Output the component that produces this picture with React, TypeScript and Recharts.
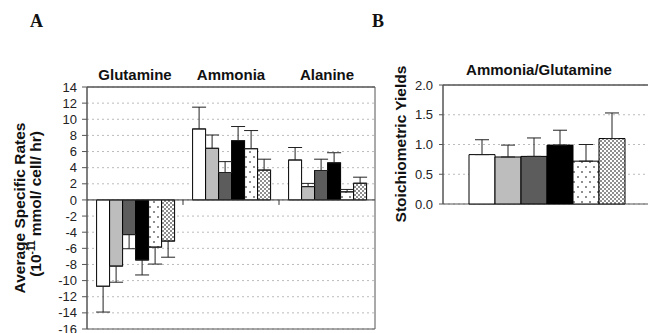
import React from 'react';
import {
  BarChart,
  Bar,
  XAxis,
  YAxis,
  CartesianGrid,
  ReferenceLine,
  ErrorBar,
} from 'recharts';

// Panel A: average specific rates (10^-11 mmol/cell/hr)
const groupsA = ['Glutamine', 'Ammonia', 'Alanine'];
const meanWhite = [-10.7, 8.8, 4.95];
const errWhite = [3.2, 2.7, 1.55];
const meanLightGray = [-8.2, 6.4, 1.65];
const errLightGray = [2.0, 1.65, 0.4];
const meanDarkGray = [-4.3, 3.4, 3.65];
const errDarkGray = [1.75, 1.35, 1.4];
const meanBlack = [-7.45, 7.35, 4.6];
const errBlack = [1.85, 1.75, 1.25];
const meanFineDots = [-5.85, 6.35, 1.0];
const errFineDots = [2.1, 2.25, 0.3];
const meanCoarseDots = [-5.1, 3.7, 2.07];
const errCoarseDots = [2.0, 1.35, 0.75];
const ticksA = [-16, -14, -12, -10, -8, -6, -4, -2, 0, 2, 4, 6, 8, 10, 12, 14];

// Panel B: stoichiometric yields
const groupsB = ['Ammonia/Glutamine'];
const yieldMean = [0.83, 0.79, 0.8, 0.99, 0.72, 1.1];
const yieldErr = [0.25, 0.2, 0.31, 0.25, 0.28, 0.43];
const ticksB = [0, 0.5, 1, 1.5, 2];

const series = [
  { key: 'white', fill: '#ffffff' },
  { key: 'lightGray', fill: '#bdbdbd' },
  { key: 'darkGray', fill: '#5c5c5c' },
  { key: 'black', fill: '#000000' },
  { key: 'fineDots', fill: 'url(#fineDots)' },
  { key: 'coarseDots', fill: 'url(#coarseDots)' },
];

// error bars only point away from zero
const oneSided = (v: number, e: number) => (v < 0 ? [e, 0] : [0, e]);

const seriesA = [
  [meanWhite, errWhite],
  [meanLightGray, errLightGray],
  [meanDarkGray, errDarkGray],
  [meanBlack, errBlack],
  [meanFineDots, errFineDots],
  [meanCoarseDots, errCoarseDots],
];

const dataA = groupsA.map((name, i) => {
  const row: Record<string, any> = { name };
  series.forEach((s, j) => {
    const [m, e] = seriesA[j];
    row[s.key] = m[i];
    row[s.key + 'Err'] = oneSided(m[i], e[i]);
  });
  return row;
});

const dataB = groupsB.map((name) => {
  const row: Record<string, any> = { name };
  series.forEach((s, j) => {
    row[s.key] = yieldMean[j];
    row[s.key + 'Err'] = oneSided(yieldMean[j], yieldErr[j]);
  });
  return row;
});

const FONT = 'Arial, "Liberation Sans", sans-serif';
const SERIF = '"Liberation Serif", "Times New Roman", serif';
const tickStyle = { fontSize: 13, fill: '#222', fontFamily: FONT };
const titleTick = { fontSize: 15, fontWeight: 'bold', fill: '#111', fontFamily: FONT };
const frame = '#555';

// box round the plot area, taken from the chart's own offset
const frameX = ({ offset }: any) => [offset.left, offset.left + offset.width];
const frameY = ({ offset }: any) => [offset.top, offset.top + offset.height];

// zero line with small ticks between the category groups
const ZeroLine = (props: any) => {
  const { x1, x2, y1 } = props;
  const n = groupsA.length;
  const step = (x2 - x1) / n;
  return (
    <g>
      <line x1={x1} x2={x2} y1={y1} y2={y1} stroke="#333" />
      {groupsA.slice(1).map((g, k) => (
        <line
          key={g}
          x1={x1 + step * (k + 1)}
          x2={x1 + step * (k + 1)}
          y1={y1}
          y2={y1 + 5}
          stroke="#333"
        />
      ))}
    </g>
  );
};

const renderBars = () =>
  series.map((s) => (
    <Bar
      key={s.key}
      dataKey={s.key}
      fill={s.fill}
      stroke="#000"
      strokeWidth={1}
      isAnimationActive={false}
    >
      <ErrorBar dataKey={s.key + 'Err'} width={7} stroke="#222" strokeWidth={1} />
    </Bar>
  ));

export default function App() {
  return (
    <div
      style={{
        position: 'fixed',
        left: 0,
        top: 0,
        width: 648,
        height: 333,
        overflow: 'hidden',
        background: '#fff',
        fontFamily: FONT,
      }}
    >
      <svg width={0} height={0} style={{ position: 'absolute' }}>
        <defs>
          <pattern id="fineDots" width={8} height={10} patternUnits="userSpaceOnUse">
            <rect width={8} height={10} fill="#fff" />
            <circle cx={2} cy={2} r={0.8} fill="#000" />
            <circle cx={6} cy={7} r={0.8} fill="#000" />
          </pattern>
          <pattern id="coarseDots" width={4} height={4} patternUnits="userSpaceOnUse">
            <rect width={4} height={4} fill="#fff" />
            <circle cx={1} cy={1} r={0.8} fill="#000" />
            <circle cx={3} cy={3} r={0.8} fill="#000" />
          </pattern>
        </defs>
      </svg>

      <div style={{ position: 'absolute', left: 0, top: 0 }}>
        <BarChart
          width={380}
          height={345}
          data={dataA}
          margin={{ top: 72, right: 5, bottom: 16, left: 0 }}
          barGap={0}
          barCategoryGap="10%"
        >
          <CartesianGrid vertical={false} stroke="#bbb" strokeDasharray="2 3" />
          <CartesianGrid
            stroke={frame}
            horizontalCoordinatesGenerator={frameY}
            verticalCoordinatesGenerator={frameX}
          />
          <XAxis
            dataKey="name"
            orientation="top"
            height={15}
            tickLine={false}
            tickSize={0}
            tickMargin={7}
            axisLine={{ stroke: frame }}
            tick={titleTick}
          />
          <YAxis
            type="number"
            domain={[-16, 14]}
            ticks={ticksA}
            interval={0}
            width={87}
            tickSize={5}
            tickMargin={5}
            tick={tickStyle}
            tickLine={{ stroke: frame }}
            axisLine={{ stroke: frame }}
          />
          <ReferenceLine y={0} shape={ZeroLine} />
          {renderBars()}
        </BarChart>
      </div>

      <div style={{ position: 'absolute', left: 380, top: 0 }}>
        <BarChart
          width={275}
          height={230}
          data={dataB}
          margin={{ top: 70, right: 4, bottom: 26, left: 0 }}
          barGap={0}
          barCategoryGap="12.5%"
        >
          <CartesianGrid vertical={false} stroke="#bbb" strokeDasharray="2 3" />
          <CartesianGrid
            stroke={frame}
            horizontalCoordinatesGenerator={frameY}
            verticalCoordinatesGenerator={frameX}
          />
          <XAxis
            dataKey="name"
            orientation="top"
            height={15}
            tickLine={false}
            tickSize={0}
            tickMargin={10}
            axisLine={{ stroke: frame }}
            tick={{ ...titleTick, dx: -8 }}
          />
          <YAxis
            type="number"
            domain={[0, 2]}
            ticks={ticksB}
            interval={0}
            width={63}
            tickSize={4}
            tickMargin={6}
            tick={tickStyle}
            tickFormatter={(v: number) => v.toFixed(1)}
            tickLine={{ stroke: frame }}
            axisLine={{ stroke: frame }}
          />
          {renderBars()}
        </BarChart>
      </div>

      <svg
        width={648}
        height={333}
        style={{ position: 'absolute', left: 0, top: 0, pointerEvents: 'none' }}
      >
        <text x={30} y={27} fontFamily={SERIF} fontWeight="bold" fontSize={18} fill="#111">
          A
        </text>
        <text x={372} y={27} fontFamily={SERIF} fontWeight="bold" fontSize={18} fill="#111">
          B
        </text>
        <text
          transform="translate(24.5,208) rotate(-90)"
          textAnchor="middle"
          fontFamily={FONT}
          fontWeight="bold"
          fontSize={15.5}
          fill="#111"
        >
          Average Specific Rates
        </text>
        <text
          transform="translate(40.5,204) rotate(-90)"
          textAnchor="middle"
          fontFamily={FONT}
          fontWeight="bold"
          fontSize={15.5}
          fill="#111"
        >
          (10
          <tspan dy={-6} fontSize={10}>
            -11
          </tspan>
          <tspan dy={6}> mmol/ cell/ hr)</tspan>
        </text>
        <text
          transform="translate(406,144) rotate(-90)"
          textAnchor="middle"
          fontFamily={FONT}
          fontWeight="bold"
          fontSize={15.5}
          fill="#111"
        >
          Stoichiometric Yields
        </text>
      </svg>
    </div>
  );
}
